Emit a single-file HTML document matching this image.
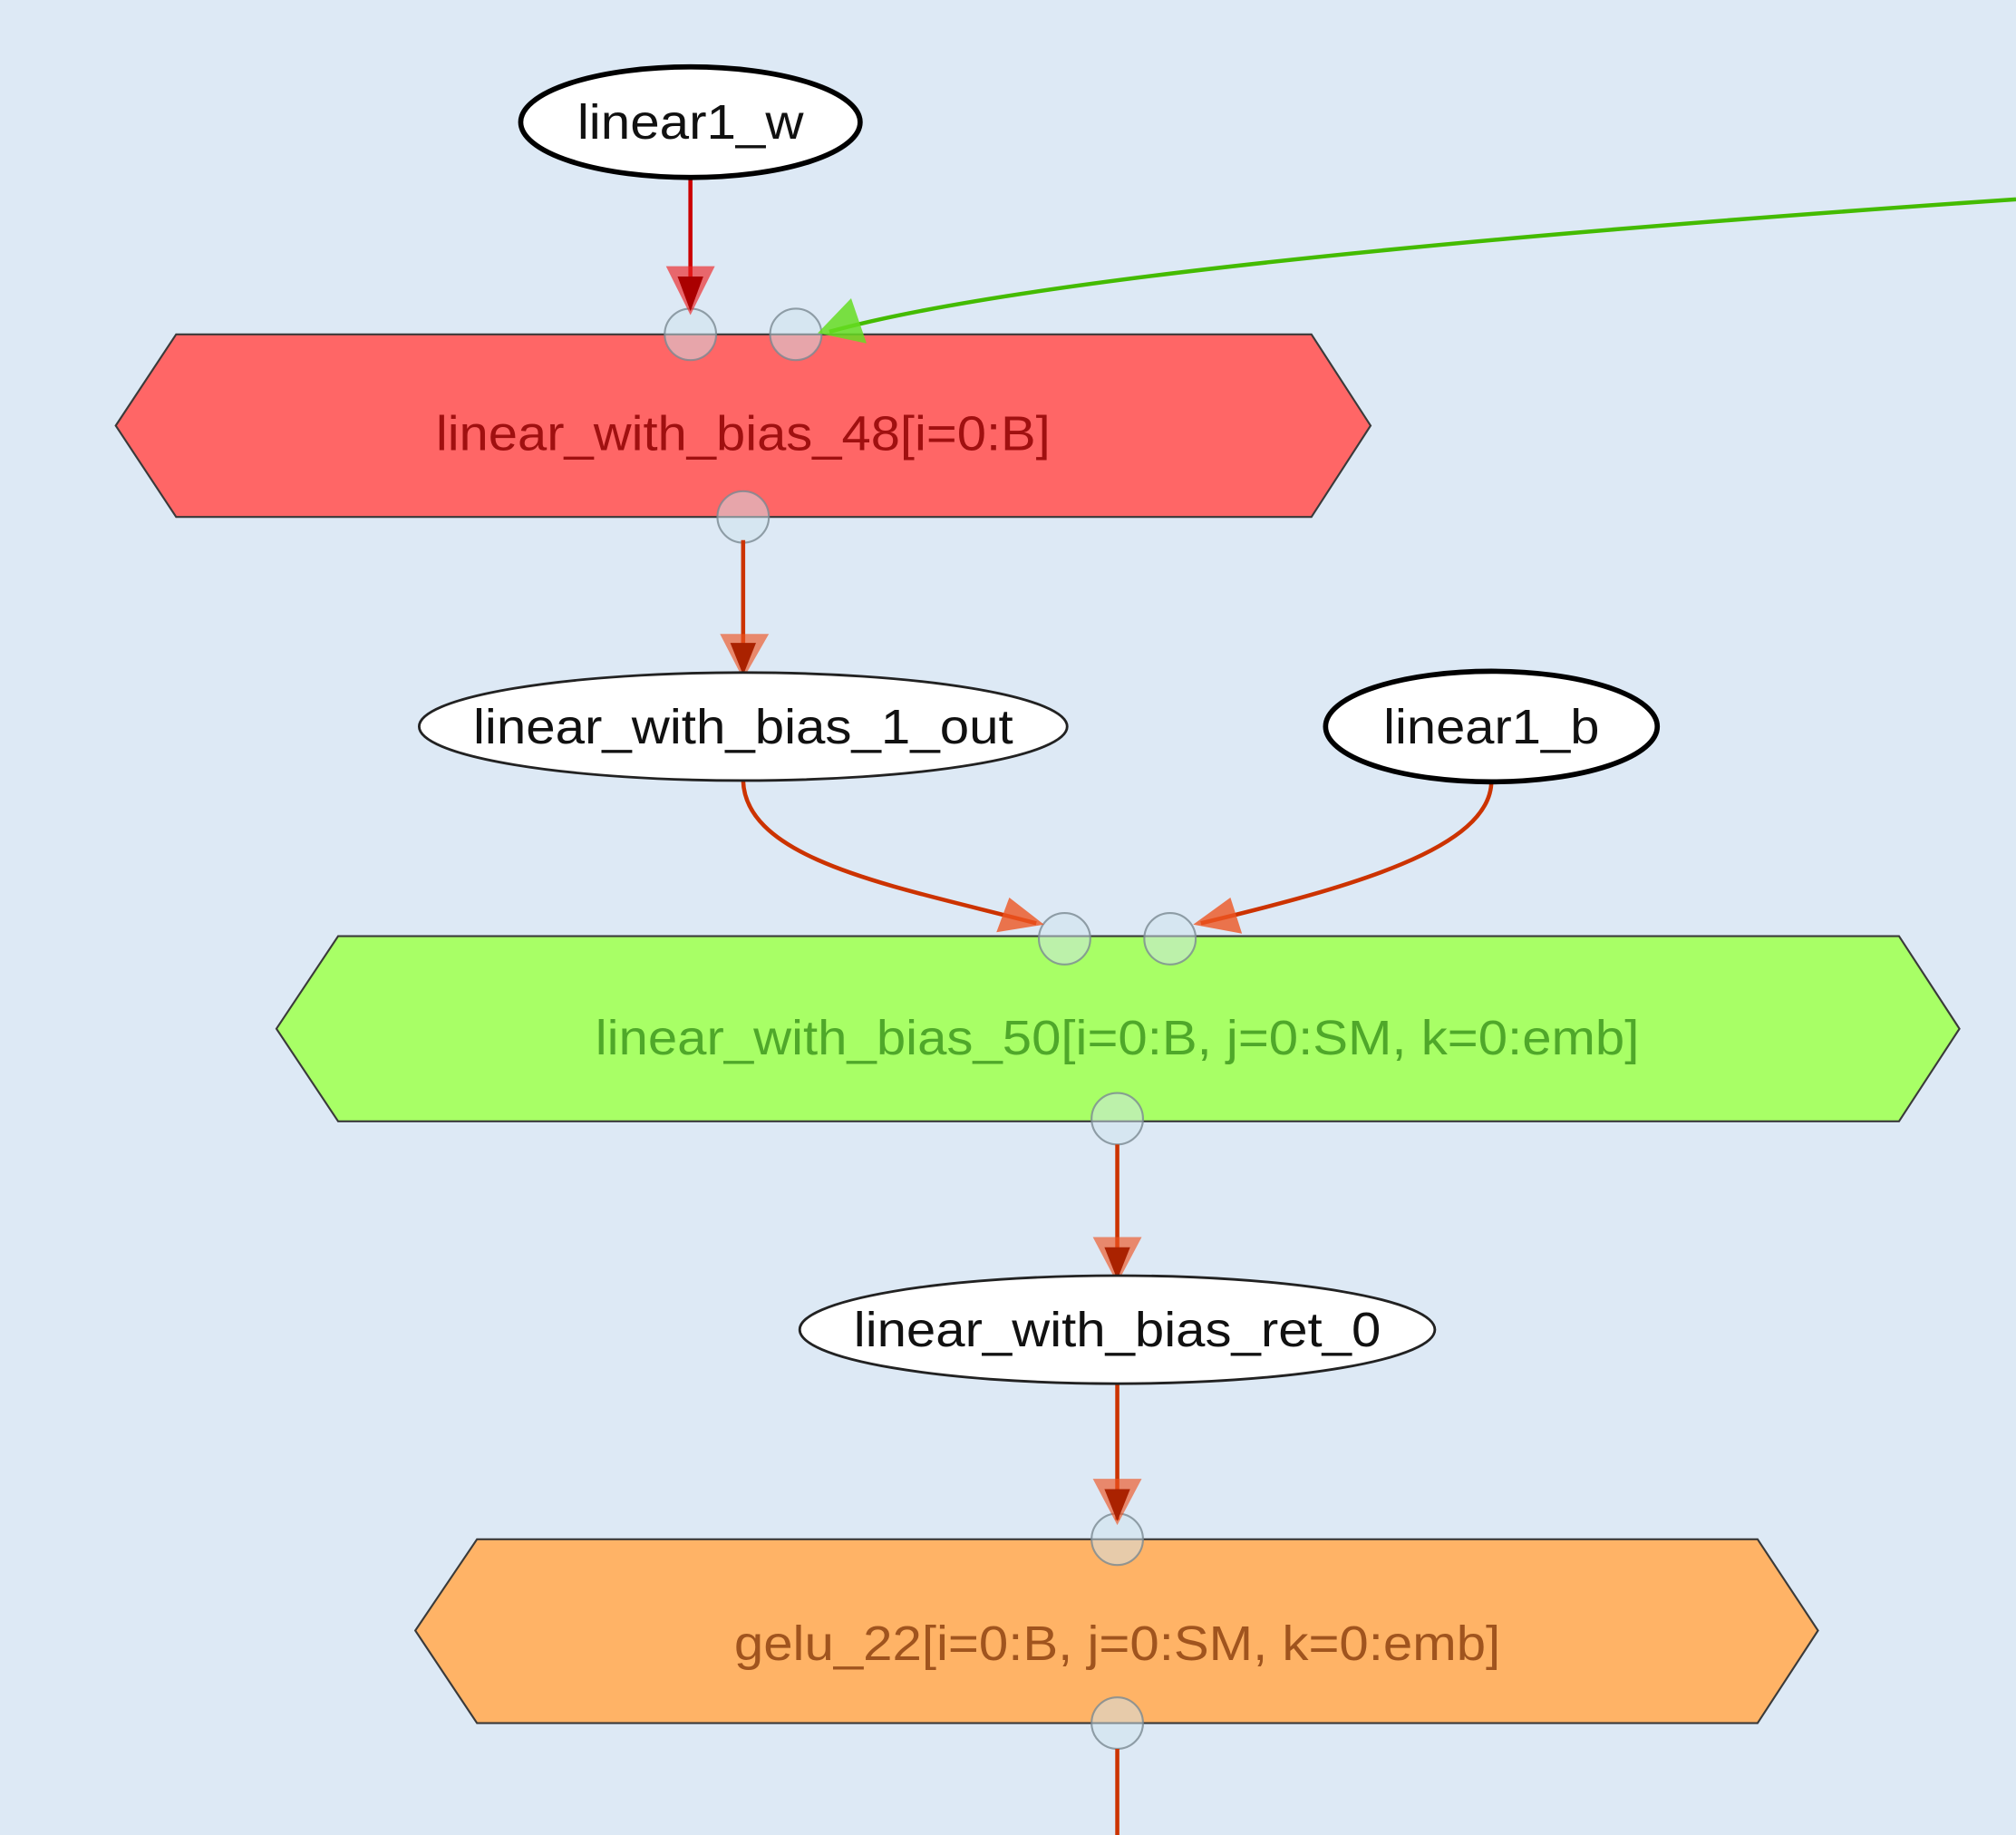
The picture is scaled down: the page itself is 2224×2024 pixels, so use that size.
<!DOCTYPE html>
<html><head><meta charset="utf-8"><style>
html,body{margin:0;padding:0;background:#dde9f5;}
svg{display:block;}
text{font-family:"Liberation Sans",sans-serif;}
</style></head><body>
<svg width="2224" height="2024" viewBox="0 0 1568 1427" xmlns="http://www.w3.org/2000/svg">
<rect width="1568" height="1427" fill="#dde9f5"/>
<!-- hexes -->
<polygon points="90,331 137,260 1020,260 1066,331 1020,402 137,402" fill="#ff6666" stroke="#3a3a3a" stroke-width="1.5"/>
<polygon points="215,800 263,728 1477,728 1524,800 1477,872 263,872" fill="#a8ff66" stroke="#3a3a3a" stroke-width="1.5"/>
<polygon points="323,1268 371,1197 1367,1197 1414,1268 1367,1340 371,1340" fill="#ffb366" stroke="#3a3a3a" stroke-width="1.5"/>
<text x="578" y="350" font-size="38" text-anchor="middle" fill="#a01010" textLength="478" lengthAdjust="spacingAndGlyphs">linear_with_bias_48[i=0:B]</text>
<text x="869" y="820" font-size="38" text-anchor="middle" fill="#4fa82a" textLength="812" lengthAdjust="spacingAndGlyphs">linear_with_bias_50[i=0:B, j=0:SM, k=0:emb]</text>
<text x="869" y="1291" font-size="38" text-anchor="middle" fill="#a0541e" textLength="596" lengthAdjust="spacingAndGlyphs">gelu_22[i=0:B, j=0:SM, k=0:emb]</text>
<!-- port circles -->
<g fill="#cfe3ee" fill-opacity="0.5" stroke="#7a8a92" stroke-width="1.5" stroke-opacity="0.8">
<circle cx="537" cy="260" r="20"/><circle cx="619" cy="260" r="20"/>
<circle cx="578" cy="402" r="20"/>
<circle cx="828" cy="730" r="20"/><circle cx="910" cy="730" r="20"/>
<circle cx="869" cy="870" r="20"/>
<circle cx="869" cy="1197" r="20"/><circle cx="869" cy="1340" r="20"/>
</g>
<!-- edges -->
<g fill="none" stroke-width="3.2">
<line x1="537" y1="138" x2="537" y2="238" stroke="#cc0000"/>
<path d="M1568,155 C1200,180 800,215 645,258" stroke="#44bb00"/>
<line x1="578" y1="420" x2="578" y2="520" stroke="#cc3300"/>
<path d="M578,607 C580,670 700,690 806,718" stroke="#cc3300"/>
<path d="M1160,607 C1160,660 1050,690 934,718" stroke="#cc3300"/>
<line x1="869" y1="890" x2="869" y2="992" stroke="#cc3300"/>
<line x1="869" y1="1076" x2="869" y2="1182" stroke="#cc3300"/>
<line x1="869" y1="1360" x2="869" y2="1427" stroke="#cc3300"/>
</g>
<!-- arrowheads -->
<polygon points="518,207 556,207 537,245" fill="#ee2222" fill-opacity="0.65"/>
<polygon points="527,215 547,215 537,242" fill="#aa0000"/>
<polygon points="560,493 598,493 578,528" fill="#ee5522" fill-opacity="0.65"/>
<polygon points="568,500 588,500 578,525" fill="#aa2200"/>
<polygon points="850,962 888,962 869,998" fill="#ee5522" fill-opacity="0.65"/>
<polygon points="859,970 879,970 869,995" fill="#aa2200"/>
<polygon points="850,1150 888,1150 869,1186" fill="#ee5522" fill-opacity="0.65"/>
<polygon points="859,1158 879,1158 869,1183" fill="#aa2200"/>
<polygon points="812,719 775,725 785,698" fill="#ee5522" fill-opacity="0.8"/>
<polygon points="928,719 966,726 957,698" fill="#ee5522" fill-opacity="0.8"/>
<polygon points="636,259 674,267 662,232" fill="#66dd22" fill-opacity="0.85"/>
<!-- ellipses -->
<ellipse cx="537" cy="95" rx="132" ry="43" fill="#fff" stroke="#000" stroke-width="4"/>
<ellipse cx="578" cy="565" rx="252" ry="42" fill="#fff" stroke="#222" stroke-width="2"/>
<ellipse cx="1160" cy="565" rx="129" ry="43" fill="#fff" stroke="#000" stroke-width="4"/>
<ellipse cx="869" cy="1034" rx="247" ry="42" fill="#fff" stroke="#222" stroke-width="2"/>
<text x="537" y="108" font-size="38" text-anchor="middle" fill="#111" textLength="176" lengthAdjust="spacingAndGlyphs">linear1_w</text>
<text x="578" y="578" font-size="38" text-anchor="middle" fill="#111" textLength="420" lengthAdjust="spacingAndGlyphs">linear_with_bias_1_out</text>
<text x="1160" y="578" font-size="38" text-anchor="middle" fill="#111" textLength="168" lengthAdjust="spacingAndGlyphs">linear1_b</text>
<text x="869" y="1047" font-size="38" text-anchor="middle" fill="#111" textLength="410" lengthAdjust="spacingAndGlyphs">linear_with_bias_ret_0</text>
</svg>
</body></html>
